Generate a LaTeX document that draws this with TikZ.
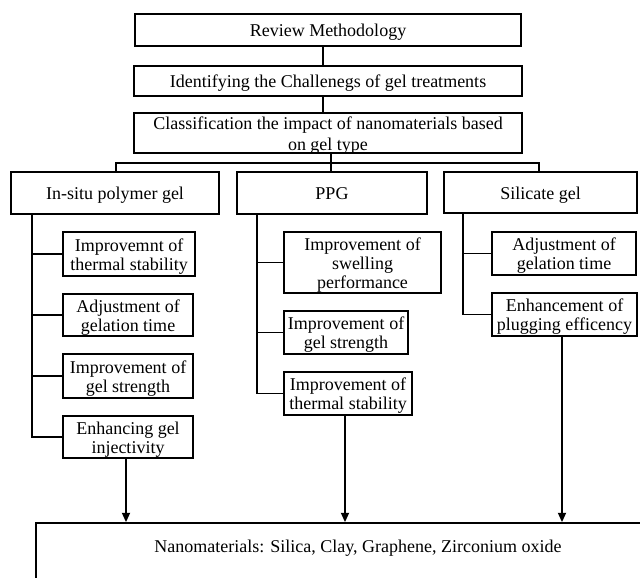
\documentclass[tikz,border=0pt]{standalone}
\usepackage{fontspec}
\setmainfont{Liberation Serif}
\usetikzlibrary{arrows.meta}
\tikzset{
  boxst/.style={draw, line width=1.3pt, inner sep=0pt,
    font=\fontsize{13.5pt}{14.4pt}\selectfont},
  conn/.style={line width=1.3pt},
  arr/.style={line width=1.3pt, -{Triangle[length=7pt,width=6pt]}}
}
\newcommand\bx[6]{\node[boxst, minimum width={(#4-#2)*0.75pt}, minimum height={(#5-#3)*0.75pt}] (#1) at ({(#2+#4)/2},{(#3+#5)/2}) {\raisebox{-2.2pt}[\height][\depth]{\begin{tabular}{@{}c@{}}#6\end{tabular}}};}
\begin{document}
\begin{tikzpicture}[x=0.75pt,y=-0.75pt]
\useasboundingbox (0,0) rectangle (640,578);
\clip (0,0) rectangle (640,578);
\fill[white] (0,0) rectangle (640,578);
% top chain
\bx{rev}{135}{14}{521}{46}{Review Methodology}
\bx{ident}{134}{66}{522}{96}{Identifying the Challenegs of gel treatments}
\bx{cls}{134}{113}{522}{153}{Classification the impact of nanomaterials based\\[1.2pt]on gel type}
% gel types
\bx{insitu}{11}{172}{219}{214}{In-situ polymer gel}
\bx{ppg}{237}{172}{427}{214}{PPG}
\bx{sil}{444}{172}{637}{213}{Silicate gel}
% in-situ items
\bx{a1}{63}{232}{195}{276}{Improvemnt of\\thermal stability}
\bx{a2}{63}{294}{193}{336}{Adjustment of\\gelation time}
\bx{a3}{63}{354}{193}{398}{Improvement of\\gel strength}
\bx{a4}{63}{416}{193}{458}{Enhancing gel\\injectivity}
% PPG items
\bx{b1}{284}{232}{441}{293}{Improvement of\\swelling\\performance}
\bx{b2}{284}{311}{408}{354}{Improvement of\\gel strength}
\bx{b3}{284}{372}{412}{415}{Improvement of\\thermal stability}
% silicate items
\bx{c1}{492}{232}{636}{275}{Adjustment of\\gelation time}
\bx{c2}{492}{293}{637}{336}{Enhancement of\\plugging efficency}
% nanomaterials box (extends past the picture edge)
\node[draw, line width=1.3pt, inner sep=0pt, anchor=base, font=\fontsize{13.5pt}{14.4pt}\selectfont,
  minimum width={644*0.75pt}, text height={29*0.75pt}, text depth={60*0.75pt}]
  (nano) at (358,552) {Nanomaterials: Silica, Clay, Graphene, Zirconium oxide};
% coordinates
\coordinate (sp) at (323,0);
\coordinate (busL) at (116,163);
\coordinate (busM) at (331,163);
\coordinate (busR) at (539,163);
\coordinate (tA) at (32,0);
\coordinate (tB) at (257,0);
\coordinate (tC) at (463,0);
% top connectors
\draw[conn] (rev.south -| sp) -- (ident.north -| sp);
\draw[conn] (ident.south -| sp) -- (cls.north -| sp);
\draw[conn] (cls.south -| busM) -- (busM) -- (ppg.north -| busM);
\draw[conn] (insitu.north -| busL) -- (busL) -- (busR) -- (sil.north -| busR);
% trunks
\draw[conn] (tA |- insitu.south) |- (a4.west);
\foreach \n in {a1,a2,a3} \draw[conn] (tA |- \n.west) -- (\n.west);
\draw[conn] (tB |- ppg.south) |- (b3.west);
\foreach \n in {b1,b2} \draw[conn] (tB |- \n.west) -- (\n.west);
\draw[conn] (tC |- sil.south) |- (c2.west);
\draw[conn] (tC |- c1.west) -- (c1.west);
% arrows to nanomaterials
\coordinate (xa) at (126,0);
\coordinate (xb) at (345,0);
\coordinate (xc) at (562,0);
\draw[arr] (a4.south -| xa) -- (nano.north -| xa);
\draw[arr] (b3.south -| xb) -- (nano.north -| xb);
\draw[arr] (c2.south -| xc) -- (nano.north -| xc);
\end{tikzpicture}
\end{document}
